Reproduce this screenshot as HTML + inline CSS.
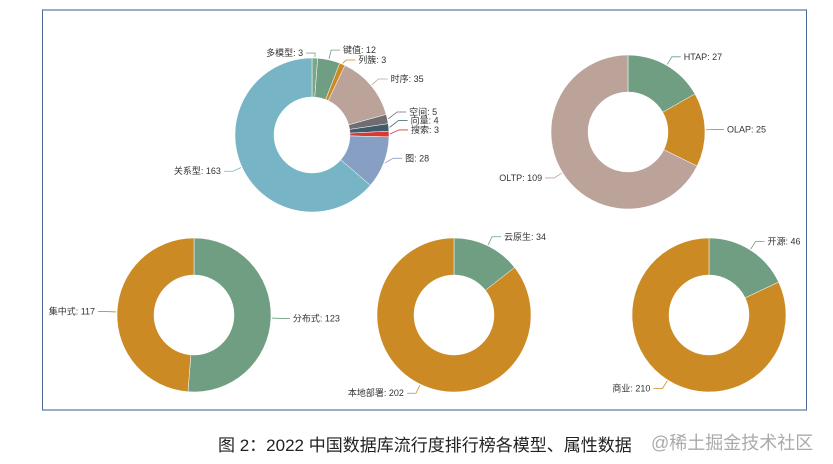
<!DOCTYPE html>
<html><head><meta charset="utf-8">
<style>
html,body{margin:0;padding:0;background:#fff;}
body{width:833px;height:464px;overflow:hidden;position:relative;font-family:"Liberation Sans","Noto Sans CJK SC",sans-serif;}
#frame{position:absolute;left:42px;top:9px;width:765px;height:402px;border-left:1.5px solid #4a6a95;border-top:2px solid #9aaec8;border-right:1.5px solid #4a6a95;border-bottom:2px solid #9aaec8;box-sizing:border-box;}
#caption{position:absolute;left:218px;top:431px;font-size:17px;color:#222;}
#wm{position:absolute;left:651px;top:429px;font-size:18px;color:#aaa;}
</style></head>
<body>
<div id="frame"></div>
<svg id="chart" width="833" height="464" style="position:absolute;left:0;top:0"></svg>
<div id="caption">图 2：2022 中国数据库流行度排行榜各模型、属性数据</div>
<div id="wm">@稀土掘金技术社区</div>
<script>
const p1Labels=["多模型","键值","列簇","时序","空间","向量","搜索","图","关系型"];
const p1Values=[3,12,3,35,5,4,3,28,163];
const p2Labels=["HTAP","OLAP","OLTP"];
const p2Values=[27,25,109];
const p3Labels=["分布式","集中式"];
const p3Values=[123,117];
const p4Labels=["云原生","本地部署"];
const p4Values=[34,202];
const p5Labels=["开源","商业"];
const p5Values=[46,210];

const svg=document.getElementById('chart');
const NS='http://www.w3.org/2000/svg';
const C={g:'#6f9e82',o:'#cc8a24',t:'#bca39a',teal:'#77b5c6',b:'#879fc2',gr:'#6e6e72',d:'#3f5a6a',r:'#d53a35'};
const pies=[
 {labels:p1Labels,values:p1Values,cx:312,cy:135,R:77,r:38,colors:['#7aa68a',C.g,C.o,C.t,C.gr,C.d,C.r,C.b,C.teal],nudge:[5,0,5,0,-5,-6,-4,-8,0],side:['L',null,null,null,null,null,null,null,null],name:'model-donut'},
 {labels:p2Labels,values:p2Values,cx:628,cy:132,R:77,r:40,colors:[C.g,C.o,C.t],nudge:[0,0,0],side:[],name:'workload-donut'},
 {labels:p3Labels,values:p3Values,cx:194,cy:315,R:77,r:40,colors:[C.g,C.o],nudge:[0,0],side:[],name:'architecture-donut'},
 {labels:p4Labels,values:p4Values,cx:454,cy:315,R:77,r:40,colors:[C.g,C.o],nudge:[0,0],side:[],name:'deployment-donut'},
 {labels:p5Labels,values:p5Values,cx:709,cy:315,R:77,r:40,colors:[C.g,C.o],nudge:[0,0],side:[],name:'license-donut'}
];
function pt(cx,cy,rad,a){return [cx+rad*Math.sin(a),cy-rad*Math.cos(a)];}
pies.forEach(p=>{
 const total=p.values.reduce((s,v)=>s+v,0);
 const g=document.createElementNS(NS,'g');
 
 
 svg.appendChild(g);
 let a0=0;
 p.values.forEach((v,i)=>{
  const a1=a0+v/total*2*Math.PI;
  const large=(a1-a0)>Math.PI?1:0;
  const [x0,y0]=pt(p.cx,p.cy,p.R,a0),[x1,y1]=pt(p.cx,p.cy,p.R,a1);
  const [x2,y2]=pt(p.cx,p.cy,p.r,a1),[x3,y3]=pt(p.cx,p.cy,p.r,a0);
  const path=document.createElementNS(NS,'path');
  path.setAttribute('d',`M${x0},${y0}A${p.R},${p.R} 0 ${large} 1 ${x1},${y1}L${x2},${y2}A${p.r},${p.r} 0 ${large} 0 ${x3},${y3}Z`);
  path.setAttribute('fill',p.colors[i]);
  path.setAttribute('stroke','#fff');
  path.setAttribute('stroke-width','0.5');
  
  
  g.appendChild(path);
  const am=(a0+a1)/2;
  const [ex,ey]=pt(p.cx,p.cy,p.R+1,am);
  let [mx,my]=pt(p.cx,p.cy,p.R+10,am);
  my+=p.nudge[i];
  let right=Math.sin(am)>=0;
  if(p.side[i]==='L')right=false;
  const hx=mx+(right?9:-9);
  const line=document.createElementNS(NS,'polyline');
  line.setAttribute('points',`${ex},${ey} ${mx},${my} ${hx},${my}`);
  line.setAttribute('fill','none');
  line.setAttribute('stroke',p.colors[i]);
  line.setAttribute('stroke-width','0.8');
  
  
  g.appendChild(line);
  const t=document.createElementNS(NS,'text');
  t.setAttribute('x',hx+(right?3:-3));
  t.setAttribute('y',my+3);
  t.setAttribute('font-size','9');
  t.setAttribute('fill','#333');
  t.setAttribute('text-anchor',right?'start':'end');
  t.setAttribute('font-family','"Liberation Sans","Noto Sans CJK SC",sans-serif');
  t.textContent=p.labels[i]+': '+v;
  
  
  g.appendChild(t);
  a0=a1;
 });
});
</script>
</body></html>
